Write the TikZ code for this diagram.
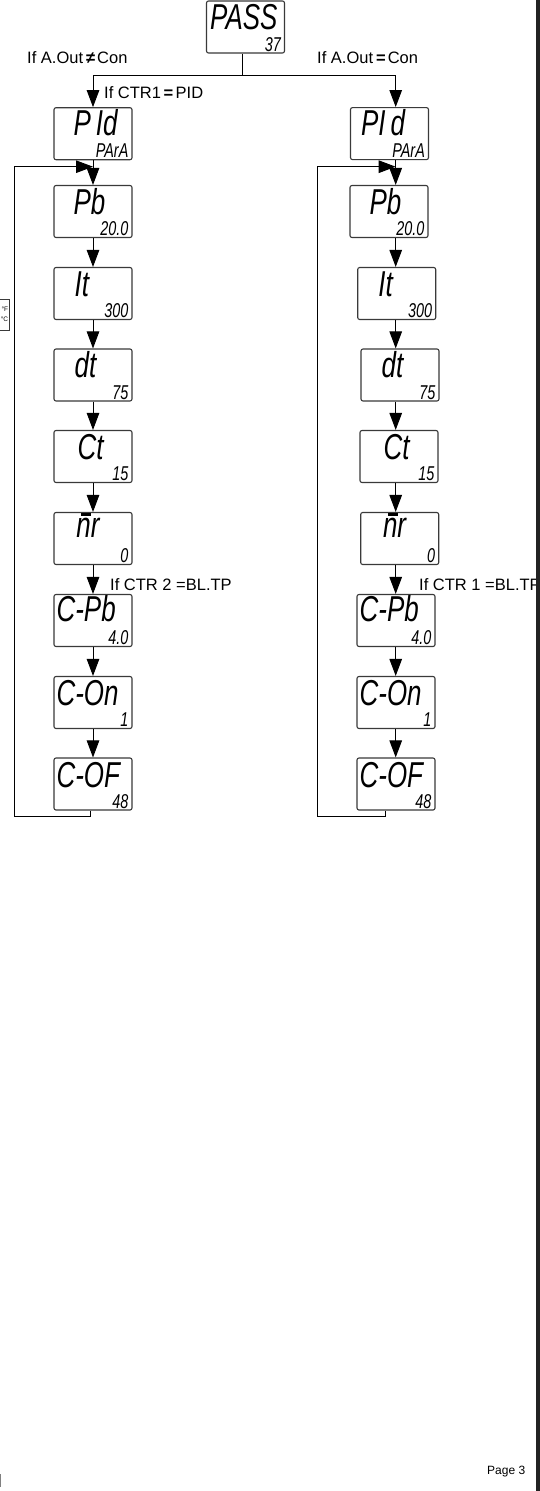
\documentclass[tikz,border=0pt]{standalone}
\usepackage{fontspec}
\setmainfont{Liberation Sans}
\newfontfamily\segfont[FakeStretch=0.72]{Liberation Sans Italic}
\usetikzlibrary{arrows.meta,calc}
\definecolor{boxgray}{HTML}{3A3A3A}
\definecolor{barblack}{HTML}{222222}
\newcommand\segbig{\segfont\fontsize{36}{36}\selectfont}
\newcommand\segsmall{\segfont\fontsize{20}{20}\selectfont}
\newcommand\nbarr{\rlap{\kern5pt\raisebox{21.5pt}{\rule{10pt}{2.4pt}}}nr}
\newcommand\dispbox[7]{%
  \node[disp] (#1) at (#2,#3) {};
  \node[bigtxt, anchor=base west] (#1b) at ($(#1.north west)+(#5,#7)$) {#4};
  \node[smalltxt, anchor=base east] (#1s) at ($(#1.south east)+(-4,-2.5)$) {#6};
}
\begin{document}
\begin{tikzpicture}[x=1pt,y=-1pt,
  disp/.style={draw=boxgray, line width=1.1pt, rounded corners=2pt, minimum width=78pt, minimum height=52pt, inner sep=0pt},
  bigtxt/.style={inner sep=0pt, font=\segbig},
  smalltxt/.style={inner sep=0pt, font=\segsmall},
  lbl/.style={inner sep=0pt, font=\fontsize{16.5}{16.5}\selectfont},
  arr/.style={-{Triangle[length=17pt,width=12.5pt]}, line width=1pt},
  ln/.style={line width=1pt}]
\useasboundingbox (0,0) rectangle (540,1491);
\fill[white] (0,0) rectangle (540,1491);

% column x positions
\coordinate (xl) at (93,0);
\coordinate (xr) at (395.7,0);

% top
\dispbox{PASS}{245.5}{27}{PASS}{4}{37}{29.5}

% left column
\dispbox{LPid}{93}{133.7}{P\hspace{5pt}Id}{20}{PArA}{28}
\dispbox{LPb}{93}{211.5}{Pb}{20}{20.0}{30}
\dispbox{LIt}{93}{293.5}{It}{21}{300}{29.5}
\dispbox{Ldt}{93}{375}{dt}{21}{75}{29}
\dispbox{LCt}{93}{456.5}{Ct}{24}{15}{30}
\dispbox{Lnr}{93}{538.5}{\nbarr}{22.7}{0}{25.3}
\dispbox{LCPb}{93}{620.5}{C-Pb}{3}{4.0}{28}
\dispbox{LCOn}{93}{702.5}{C-On}{3}{1}{29.3}
\dispbox{LCOF}{93}{784}{C-OF}{3}{48}{30.3}

% right column
\dispbox{RPid}{389.5}{133.6}{PI\hspace{5pt}d}{11}{PArA}{28}
\dispbox{RPb}{389}{211.5}{Pb}{20}{20.0}{30}
\dispbox{RIt}{396.7}{293.5}{It}{21}{300}{29.5}
\dispbox{Rdt}{400}{375}{dt}{21}{75}{29}
\dispbox{RCt}{399}{456.5}{Ct}{24}{15}{30}
\dispbox{Rnr}{399.7}{538.5}{\nbarr}{22.7}{0}{25.3}
\dispbox{RCPb}{396}{620.5}{C-Pb}{3}{4.0}{28}
\dispbox{RCOn}{396}{702.5}{C-On}{3}{1}{29.3}
\dispbox{RCOF}{396}{784}{C-OF}{3}{48}{30.3}

% split from PASS
\coordinate (split) at (242.8,75);
\draw[ln] (PASS.south -| split) -- (split);
\draw[arr] (split) -| (LPid.north -| xl);
\draw[arr] (split) -| (RPid.north -| xr);

% left chain
\foreach \a/\b in {LPid/LPb, LPb/LIt, LIt/Ldt, Ldt/LCt, LCt/Lnr, Lnr/LCPb, LCPb/LCOn, LCOn/LCOF}
  \draw[arr] (\a.south -| xl) -- (\b.north -| xl);
% right chain
\foreach \a/\b in {RPid/RPb, RPb/RIt, RIt/Rdt, Rdt/RCt, RCt/Rnr, Rnr/RCPb, RCPb/RCOn, RCOn/RCOF}
  \draw[arr] (\a.south -| xr) -- (\b.north -| xr);

% loops
\coordinate (lcx) at (90.7,0);
\coordinate (lbl) at (14.8,816);
\coordinate (ltl) at (14.8,166.7);
\draw[arr] (LCOF.south -| lcx) |- (lbl) -- (ltl) -- (ltl -| xl);
\coordinate (rcx) at (385.7,0);
\coordinate (rbl) at (317.7,816);
\coordinate (rtl) at (317.7,166.7);
\draw[arr] (RCOF.south -| rcx) |- (rbl) -- (rtl) -- (rtl -| xr);

% labels
\node[lbl, anchor=base west] (l1) at (27,63.7) {If A.Out\hspace{3pt}{\bfseries ≠}\hspace{2pt}Con};
\node[lbl, anchor=base west] (l2) at (317,63.7) {If A.Out\hspace{3pt}{\bfseries =}\hspace{2pt}Con};
\node[lbl, anchor=base west] (l3) at (104,98) {If CTR1\hspace{2.5pt}{\bfseries =}\hspace{2.5pt}PID};
\node[lbl, anchor=base west] (l4) at (110,590) {If CTR 2 =BL.TP};
\node[lbl, anchor=base west] (l5) at (419,590) {If CTR 1 =BL.TP};
\node[inner sep=0pt, anchor=base west, font=\fontsize{12}{12}\selectfont] (pg) at (487,1474) {Page 3};

% small box at left edge
\draw[boxgray, line width=0.8pt] (-2,299) rectangle (9,330);
\node[inner sep=0pt, anchor=east, align=right, font=\fontsize{6.5}{10}\selectfont] (unit) at (8.3,314.5) {°F\\°C};
% left edge tick
\draw[gray, line width=1pt] (0.5,1474) -- (0.5,1487);
% thick right bar
\fill[barblack] (536,0) rectangle (540,1491);
\end{tikzpicture}
\end{document}
